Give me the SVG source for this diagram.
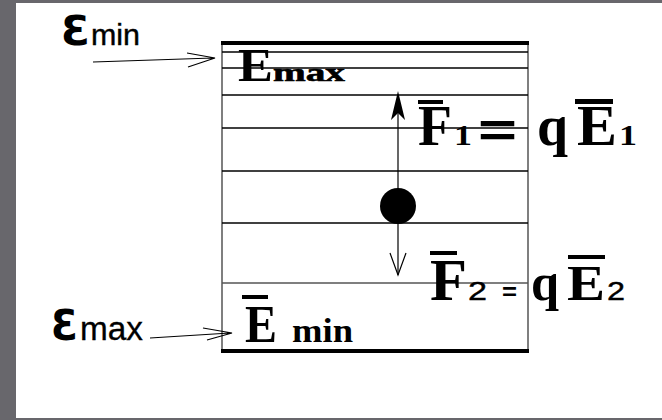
<svg xmlns="http://www.w3.org/2000/svg" width="662" height="420" viewBox="0 0 662 420">
<style>
.big{font-family:"Liberation Serif","Times New Roman",serif;font-weight:bold;fill:#000}
.sans{font-family:"Liberation Sans",Arial,sans-serif;fill:#000}
.eps{font-family:"DejaVu Sans","Liberation Sans",sans-serif;font-weight:bold;fill:#000}
.grid{stroke:#000;stroke-width:1.5}
.edge{stroke:#555;stroke-width:1.5}
.thick{stroke:#000;stroke-width:4}
.thin{stroke:#000;stroke-width:1.2;fill:none}
</style>
<rect x="0" y="0" width="662" height="420" fill="#68676c"/>
<rect x="16" y="3" width="646" height="415" fill="#fff"/>

<g id="plate">
  <line class="edge" x1="222" y1="43" x2="222" y2="353"/>
  <line class="edge" x1="528" y1="43" x2="528" y2="353"/>
  <line class="thick" x1="221" y1="43" x2="529" y2="43"/>
  <line class="thick" x1="221" y1="351" x2="529" y2="351"/>
  <line class="grid" x1="222" y1="52" x2="528" y2="52"/>
  <line class="grid" x1="222" y1="68" x2="528" y2="68"/>
  <line class="grid" x1="222" y1="95" x2="528" y2="95"/>
  <line class="grid" x1="222" y1="128" x2="528" y2="128"/>
  <line class="grid" x1="222" y1="171" x2="528" y2="171"/>
  <line class="grid" x1="222" y1="223" x2="528" y2="223"/>
  <line class="edge" x1="222" y1="283" x2="528" y2="283"/>
</g>

<g id="label-emax">
  <text class="big" x="238" y="81" font-size="47" textLength="35" lengthAdjust="spacingAndGlyphs">E</text>
  <text class="big" x="273" y="81" font-size="26" textLength="72" lengthAdjust="spacingAndGlyphs" stroke="#000" stroke-width="0.6">max</text>
</g>

<g id="label-emin">
  <rect x="242" y="295" width="26" height="4" fill="#000"/>
  <text class="big" x="245" y="342" font-size="53" textLength="32" lengthAdjust="spacingAndGlyphs">E</text>
  <text class="big" x="292" y="342" font-size="33" textLength="61" lengthAdjust="spacingAndGlyphs">min</text>
</g>

<g id="charge">
  <circle cx="398" cy="206" r="18" fill="#000"/>
</g>

<g id="connectors">
  <line class="thin" x1="398" y1="190" x2="398" y2="108" stroke-width="2.5"/>
  <path d="M398,91 L405,120 L398,113 L391,120 Z" fill="#000"/>
  <line class="thin" x1="398" y1="222" x2="398" y2="275" stroke-width="2.5"/>
  <path class="thin" d="M390,253 L398,275 L406,253" stroke-width="2"/>
  <path class="thin" d="M93,62 L213,58 M187,53 L215,58 L188,67"/>
  <path class="thin" d="M150,338 L230,333 M203,328 L232,333 L207,340"/>
</g>

<g id="eps-min">
  <text class="eps" x="61" y="45" font-size="40" textLength="29" lengthAdjust="spacingAndGlyphs">Ɛ</text>
  <text class="sans" x="91" y="45" font-size="29" textLength="49" lengthAdjust="spacingAndGlyphs" stroke="#000" stroke-width="0.4">min</text>
</g>

<g id="eps-max">
  <text class="eps" x="51" y="340" font-size="43" textLength="27" lengthAdjust="spacingAndGlyphs">Ɛ</text>
  <text class="sans" x="80" y="340" font-size="33" textLength="63" lengthAdjust="spacingAndGlyphs" stroke="#000" stroke-width="0.3">max</text>
</g>

<g id="force1">
  <rect x="418" y="100" width="25" height="4" fill="#000"/>
  <text class="big" x="418" y="145" font-size="56" textLength="34" lengthAdjust="spacingAndGlyphs">F</text>
  <text class="big" x="454" y="145" font-size="29" textLength="18" lengthAdjust="spacingAndGlyphs">1</text>
  <text class="sans" x="478" y="147" font-size="48" font-weight="bold" textLength="39" lengthAdjust="spacingAndGlyphs">=</text>
  <text class="big" x="537" y="145" font-size="56" textLength="31" lengthAdjust="spacingAndGlyphs">q</text>
  <rect x="575" y="99" width="38" height="5" fill="#000"/>
  <text class="big" x="577" y="145" font-size="56" textLength="40" lengthAdjust="spacingAndGlyphs">E</text>
  <text class="big" x="619" y="145" font-size="29" textLength="18" lengthAdjust="spacingAndGlyphs">1</text>
</g>

<g id="force2">
  <rect x="430" y="251" width="27" height="4" fill="#000"/>
  <text class="big" x="430" y="300" font-size="60" textLength="37" lengthAdjust="spacingAndGlyphs">F</text>
  <text class="sans" x="468" y="300" font-size="26" textLength="19" lengthAdjust="spacingAndGlyphs" stroke="#000" stroke-width="0.4">2</text>
  <text class="sans" x="502" y="300" font-size="24" font-weight="bold" textLength="15" lengthAdjust="spacingAndGlyphs">=</text>
  <text class="big" x="531" y="300" font-size="52" textLength="28" lengthAdjust="spacingAndGlyphs">q</text>
  <rect x="568" y="255" width="37" height="4" fill="#000"/>
  <text class="big" x="567" y="300" font-size="50" textLength="38" lengthAdjust="spacingAndGlyphs">E</text>
  <text class="sans" x="607" y="300" font-size="26" textLength="18" lengthAdjust="spacingAndGlyphs" stroke="#000" stroke-width="0.4">2</text>
</g>
</svg>
